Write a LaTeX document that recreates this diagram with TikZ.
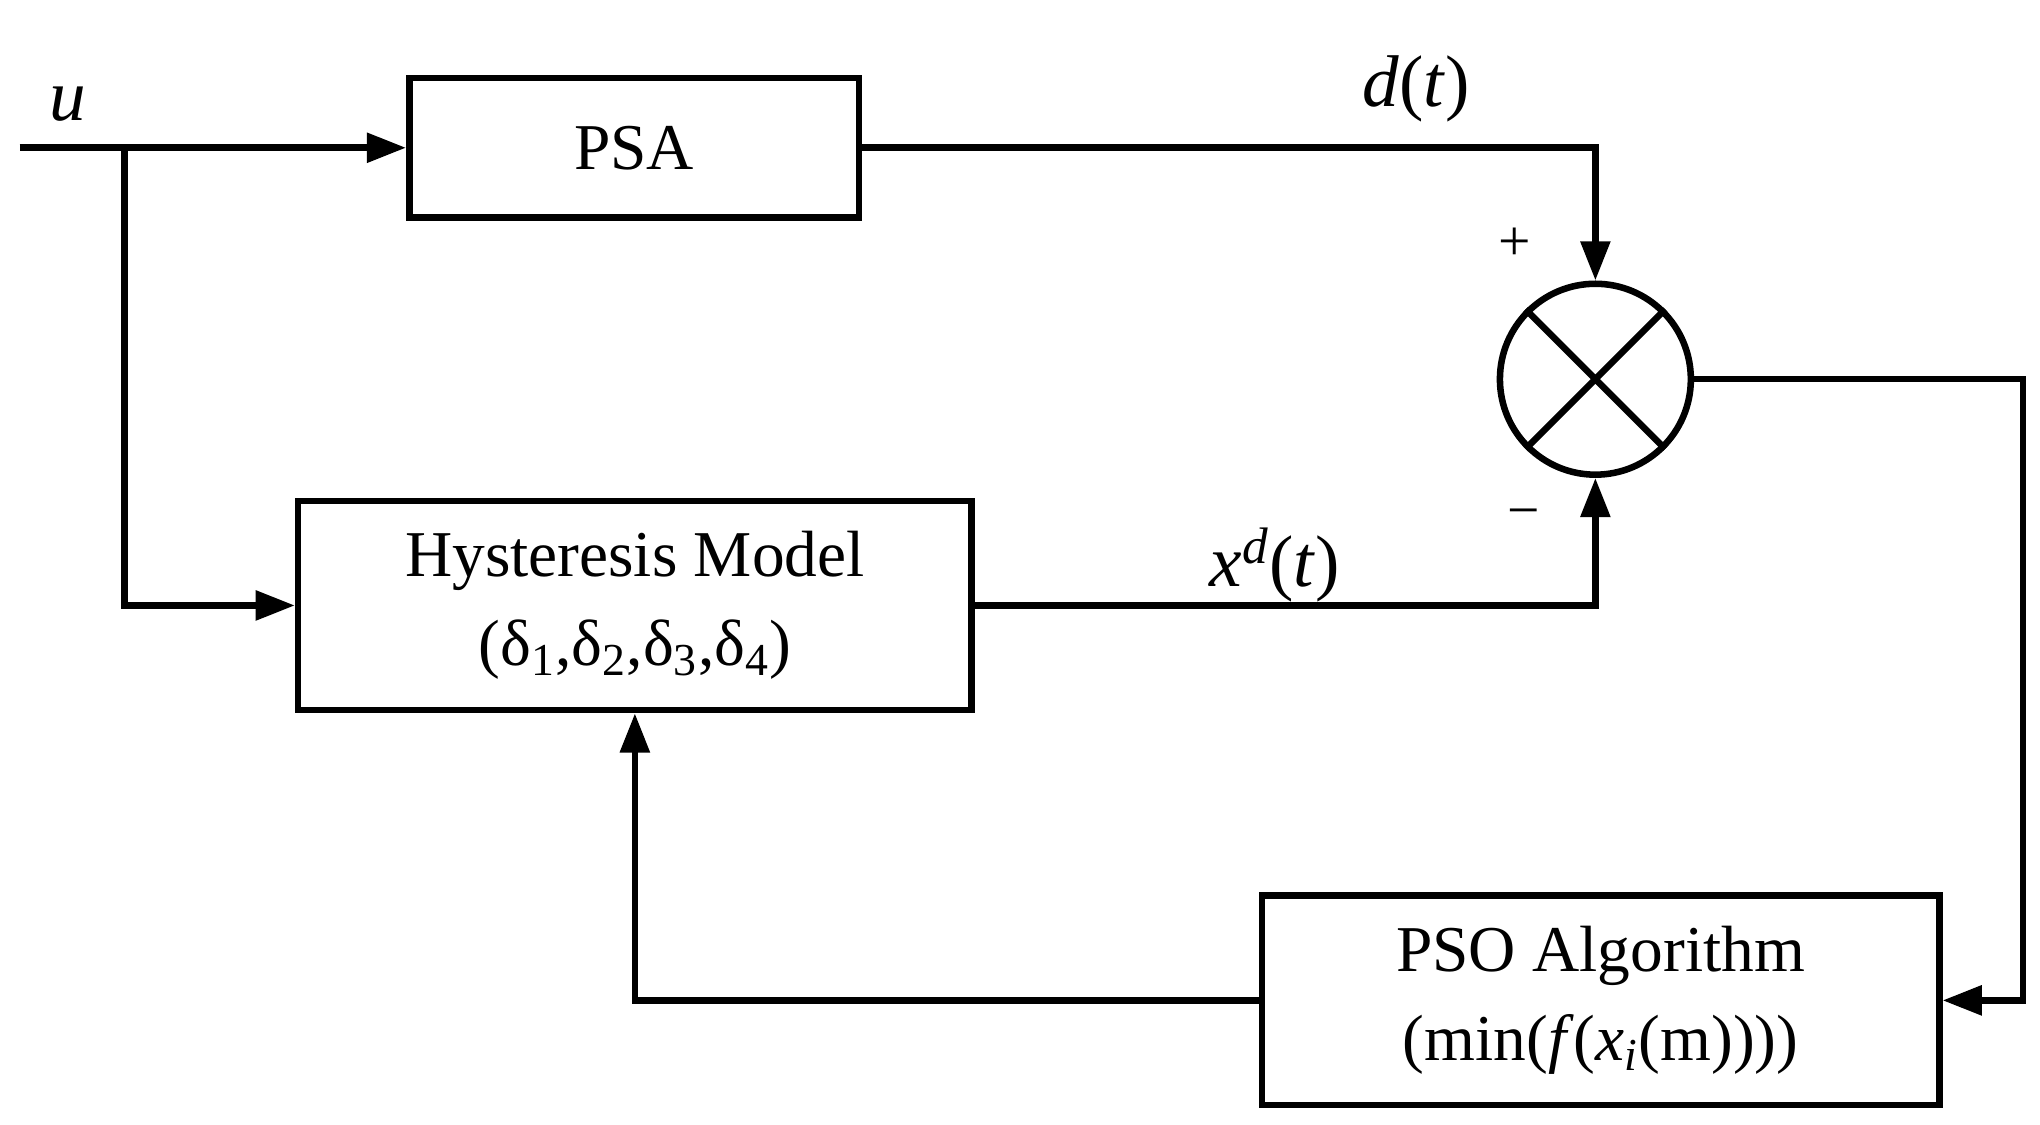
\documentclass[tikz,border=0pt]{standalone}
\usepackage{fontspec}
\setmainfont{Liberation Serif}
\usetikzlibrary{arrows.meta}
\begin{document}
\begin{tikzpicture}[x=0.5pt,y=-0.5pt,
  box/.style={draw,line width=2.5pt,rectangle,inner sep=0pt,align=center,font=\fontsize{25}{34}\selectfont},
  ln/.style={line width=2.5pt},
  arr/.style={ln,-{Triangle[length=15pt,width=11pt]}},
  lab/.style={font=\fontsize{28}{30}\selectfont}]
\useasboundingbox (0,0) rectangle (1560,860);
\node[box,minimum width=172pt,minimum height=53.5pt] (psa) at (485,113) {PSA};
\node[box,minimum width=257.5pt,minimum height=80pt] (hys) at (485.5,463) {Hysteresis Model\\(δ\textsubscript{1},δ\textsubscript{2},δ\textsubscript{3},δ\textsubscript{4})};
\node[box,minimum width=259pt,minimum height=80pt] (pso) at (1224,765) {PSO Algorithm\\(min(\textit{f}(\textit{x\textsubscript{i}}(m))))};
\node[draw,circle,line width=2.5pt,minimum size=73pt,inner sep=0pt] (sum) at (1220,290) {};
\draw[ln] (sum.45) -- (sum.225) (sum.135) -- (sum.315);
\coordinate (in) at (15,113);
\coordinate (br) at (95,113);
\coordinate (r) at (1547,290);
\draw[arr] (in) -- (psa.west);
\draw[arr] (br) |- (hys.west);
\draw[arr] (psa.east) -| (sum.north);
\draw[arr] (hys.east) -| (sum.south);
\draw[arr] (sum.east) -- (r) |- (pso.east);
\draw[arr] (pso.west) -| (hys.south);
\node[lab] (u) at (52,80) {\textit{u}};
\node[lab] (d) at (1083,68) {\textit{d}(\textit{t})};
\node[lab] (x) at (975,432) {\textit{x}\textsuperscript{\textit{d}}(\textit{t})};
\node[font=\fontsize{22}{24}\selectfont] (p) at (1158,187) {+};
\node[font=\fontsize{22}{24}\selectfont] (m) at (1165,397) {−};
\end{tikzpicture}
\end{document}
